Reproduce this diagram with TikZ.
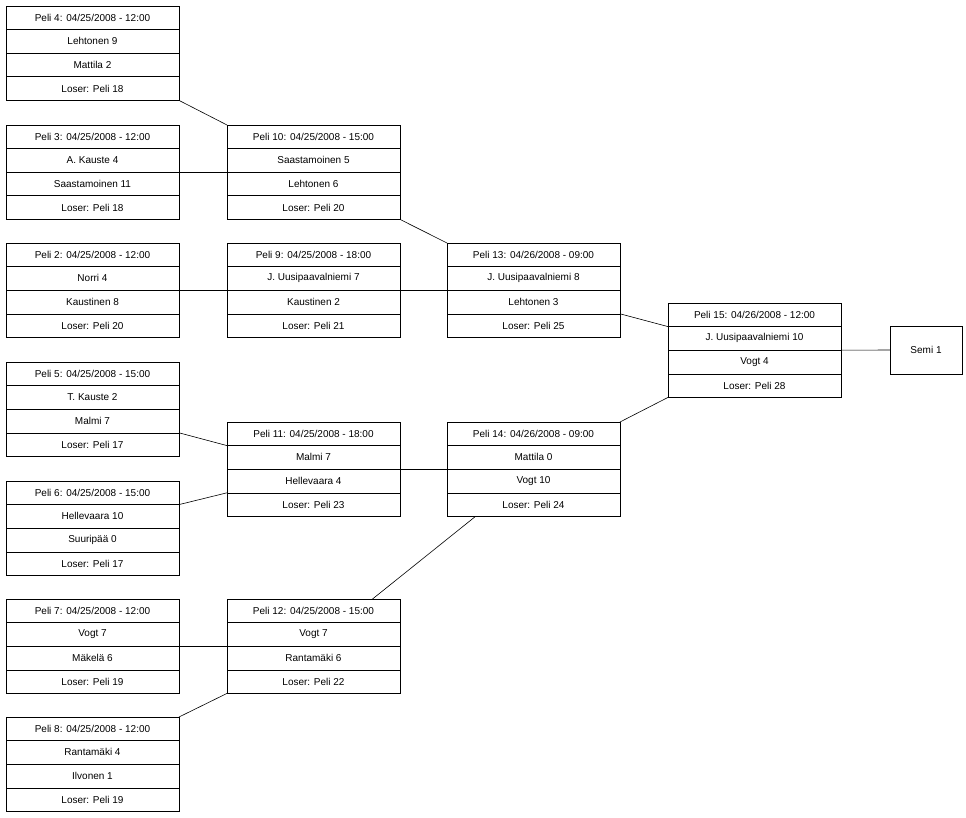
\documentclass[tikz,border=0pt]{standalone}
\usepackage{fontspec}
\setmainfont{Liberation Sans}
\usetikzlibrary{positioning}

\tikzset{
  cell/.style={draw=black, line width=0.6pt, minimum width=173pt, minimum height=23.6pt,
    inner sep=0pt, outer sep=0pt, font=\fontsize{10}{12}\selectfont},
  link/.style={line width=0.6pt, black}
}
% one game: name, x, y, four rows
\newcommand{\game}[7]{%
  \node[cell, anchor=north west] (#1-1) at (#2,#3) {#4};
  \node[cell, below=0pt of #1-1] (#1-2) {#5};
  \node[cell, below=0pt of #1-2] (#1-3) {#6};
  \node[cell, below=0pt of #1-3] (#1-4) {#7};
}

\begin{document}
\begin{tikzpicture}[x=1pt, y=-1pt]
  \useasboundingbox (0,0) rectangle (966,818);

  \game{p4}{6}{6}{Peli 4: 04/25/2008 - 12:00}{Lehtonen 9}{Mattila 2}{Loser: Peli 18}
  \game{p3}{6}{125}{Peli 3: 04/25/2008 - 12:00}{A. Kauste 4}{Saastamoinen 11}{Loser: Peli 18}
  \game{p2}{6}{243}{Peli 2: 04/25/2008 - 12:00}{Norri 4}{Kaustinen 8}{Loser: Peli 20}
  \game{p5}{6}{362}{Peli 5: 04/25/2008 - 15:00}{T. Kauste 2}{Malmi 7}{Loser: Peli 17}
  \game{p6}{6}{481}{Peli 6: 04/25/2008 - 15:00}{Hellevaara 10}{Suuripää 0}{Loser: Peli 17}
  \game{p7}{6}{599}{Peli 7: 04/25/2008 - 12:00}{Vogt 7}{Mäkelä 6}{Loser: Peli 19}
  \game{p8}{6}{717}{Peli 8: 04/25/2008 - 12:00}{Rantamäki 4}{Ilvonen 1}{Loser: Peli 19}

  \game{p10}{227}{125}{Peli 10: 04/25/2008 - 15:00}{Saastamoinen 5}{Lehtonen 6}{Loser: Peli 20}
  \game{p9}{227}{243}{Peli 9: 04/25/2008 - 18:00}{J. Uusipaavalniemi 7}{Kaustinen 2}{Loser: Peli 21}
  \game{p11}{227}{422}{Peli 11: 04/25/2008 - 18:00}{Malmi 7}{Hellevaara 4}{Loser: Peli 23}
  \game{p12}{227}{599}{Peli 12: 04/25/2008 - 15:00}{Vogt 7}{Rantamäki 6}{Loser: Peli 22}

  \game{p13}{447}{243}{Peli 13: 04/26/2008 - 09:00}{J. Uusipaavalniemi 8}{Lehtonen 3}{Loser: Peli 25}
  \game{p14}{447}{422}{Peli 14: 04/26/2008 - 09:00}{Mattila 0}{Vogt 10}{Loser: Peli 24}

  \game{p15}{668}{303}{Peli 15: 04/26/2008 - 12:00}{J. Uusipaavalniemi 10}{Vogt 4}{Loser: Peli 28}

  \node[cell, minimum width=72pt, minimum height=48pt, anchor=north west] (semi) at (890,326) {Semi 1};

  \draw[link] (p4-4.south east) -- (p10-1.north west);
  \draw[link] (p3-3.north east) -- (p10-3.north west);
  \draw[link] (p2-3.north east) -- (p9-3.north west);
  \draw[link] (p9-3.north east) -- (p13-3.north west);
  \draw[link] (p10-4.south east) -- (p13-1.north west);
  \draw[link] (p5-4.north east) -- (p11-2.north west);
  \draw[link] (p6-2.north east) -- (p11-3.south west);
  \draw[link] (p11-3.north east) -- (p14-3.north west);
  \draw[link] (p7-3.north east) -- (p12-3.north west);
  \draw[link] (p8-1.north east) -- (p12-4.south west);
  \draw[link] ([xshift=59pt]p12-1.north) -- ([xshift=-58pt]p14-4.south);
  \draw[link] (p13-4.north east) -- (p15-2.north west);
  \draw[link] (p14-1.north east) -- (p15-4.south west);
  \draw[link] (p15-3.north east) -- (semi.west);
\end{tikzpicture}
\end{document}
